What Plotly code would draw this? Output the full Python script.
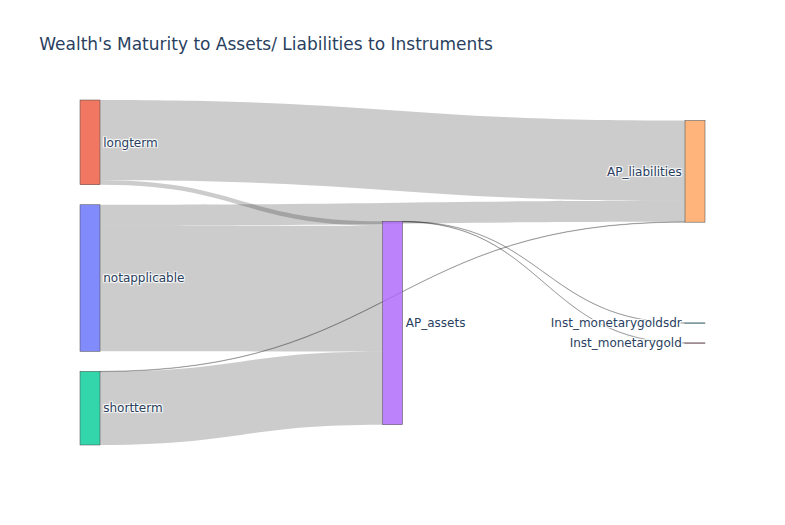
import plotly.graph_objects as go

node_labels = ["notapplicable", "longterm", "shortterm", "AP_assets", "AP_liabilities",
               "Inst_monetarygoldsdr", "Inst_monetarygold"]

link_source = ["longterm", "longterm", "notapplicable", "notapplicable", "shortterm", "shortterm",
               "AP_assets", "AP_assets"]
link_target = ["AP_liabilities", "AP_assets", "AP_liabilities", "AP_assets", "AP_liabilities", "AP_assets",
               "Inst_monetarygoldsdr", "Inst_monetarygold"]
link_value = [80.5, 4.5, 21, 126, 0.4, 73.5, 0.3, 0.3]

# layout hints (node centre as fraction of the plot area); None = automatic
node_x = [None, None, None, 0.5, None, 0.984, 0.984]
node_y = [None, None, None, 0.6464, None, 0.6464, 0.7043]

idx = {n: i for i, n in enumerate(node_labels)}

fig = go.Figure(go.Sankey(
    node=dict(label=node_labels, x=node_x, y=node_y),
    link=dict(
        source=[idx[s] for s in link_source],
        target=[idx[t] for t in link_target],
        value=link_value,
    ),
))
fig.update_layout(
    title_text="Wealth's Maturity to Assets/ Liabilities to Instruments",
    font=dict(family="DejaVu Sans"),
    width=785, height=525,
)
fig.write_html("out.html", config={"displayModeBar": False},
               post_script="document.body.style.margin='0';")
